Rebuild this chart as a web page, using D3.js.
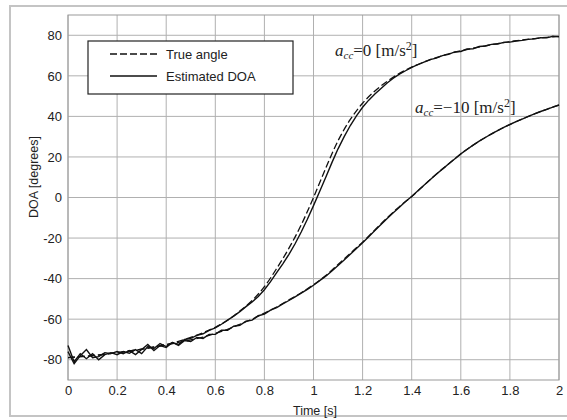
<!DOCTYPE html>
<html><head><meta charset="utf-8">
<script src="https://cdn.jsdelivr.net/npm/d3@7"></script>
<style>body{margin:0;background:#fff;}svg{display:block;font-family:"Liberation Sans",Arial,sans-serif;}</style>
</head><body>
<svg id="c" width="567" height="420"></svg>
<script>
// ---- data ----
const tTrue = d3.range(0, 41).map(i => +(i * 0.05).toFixed(3));
const tEst = d3.range(0, 81).map(i => +(i * 0.025).toFixed(3));
const trueAcc0 = [-79,-78.5,-78,-77.3,-76.5,-75.7,-74.8,-73.7,-72.5,-71,-69,-66.7,-64,-60.5,-56,-50.8,-44,-35,-25,-13.5,0,14.5,28,38.5,46.5,52.5,57.3,61.2,64.3,66.8,69,70.8,72.3,73.6,74.8,75.9,76.9,77.7,78.4,79,79.5];
const trueAcc10 = [-79,-78.5,-78,-77.3,-76.5,-75.7,-74.8,-73.8,-72.7,-71.5,-70.2,-68.8,-67,-65,-62.5,-60,-57,-54,-50.5,-47,-43,-38.5,-33,-27.5,-22,-16,-10,-4.5,0.5,6,11.5,16.5,21.5,25.8,29.6,33,36,38.7,41.2,43.5,45.6];
const estAcc0 = [-73,-81,-77,-79.5,-77,-80,-77.5,-76.5,-77.5,-76,
  -76.8,-75,-77,-73.5,-74.5,-72,-73.5,-71.5,-72.5,-70,
  -69.5,-68,-67.2,-65.5,-64.3,-62.5,-60.5,-58.5,-56.3,-53.8,
  -51.5,-48.8,-45.5,-41.5,-37,-32.7,-28,-22.8,-17,-10.7,
  -4,3,10,17.2,24,30,35.5,40.3,44.5,48,
  51,53.8,56.5,58.8,60.8,62.5,64.2,65.5,66.8,68,
  68.7,70,70.6,71.8,72,73.2,73.3,74.5,74.7,75.5,
  75.7,76.5,76.6,77.2,77.5,78,78.2,78.8,78.7,79.5,
  79.2];
const estAcc10 = [-76,-82,-78,-75,-79,-78.5,-76.5,-77,-76,-77,
  -75.5,-77.5,-75,-72.5,-75.5,-73,-74,-71.5,-73,-70.5,
  -71,-69,-69.5,-67.5,-67.5,-65.5,-65.5,-63.5,-63,-61,
  -60.5,-58.3,-57.5,-55.5,-54.3,-52.5,-50.8,-49,-47.2,-45.3,
  -43.3,-41,-38.8,-36.2,-33.5,-30.8,-28,-25.2,-22.3,-19.3,
  -16.3,-13.3,-10.3,-7.5,-4.8,-2,0.5,3.3,6,8.8,
  11.5,14,16.5,19,21.5,23.7,25.8,27.8,29.6,31.4,
  33,34.6,36,37.4,38.7,40,41.2,42.4,43.5,44.6,
  45.6];
const xTicks = [0,0.2,0.4,0.6,0.8,1,1.2,1.4,1.6,1.8,2];
const yTicks = [-80,-60,-40,-20,0,20,40,60,80];
const legendLabels = ["True angle","Estimated DOA"];

// ---- layout ----
const svg = d3.select("#c");
const L = 68, R = 559, T = 15, B = 380;
const x = d3.scaleLinear().domain([0, 2]).range([L, R]);
const y = d3.scaleLinear().domain([-90, 90]).range([B, T]);

// outer frame (right edge beyond the picture)
svg.append("rect").attr("x", 10).attr("y", 6).attr("width", 600).attr("height", 410)
  .attr("fill", "none").attr("stroke", "#c4c4c4").attr("stroke-width", 2);

// grid
const g = svg.append("g");
g.selectAll(".vg").data(xTicks).join("line")
  .attr("x1", d => x(d)).attr("x2", d => x(d)).attr("y1", T).attr("y2", B)
  .attr("stroke", "#b0b0b0").attr("stroke-width", 1);
g.selectAll(".hg").data(yTicks).join("line")
  .attr("x1", L).attr("x2", R).attr("y1", d => y(d)).attr("y2", d => y(d))
  .attr("stroke", "#b0b0b0").attr("stroke-width", 1);
svg.append("rect").attr("x", L).attr("y", T).attr("width", R - L).attr("height", B - T)
  .attr("fill", "none").attr("stroke", "#999").attr("stroke-width", 1);

// axes (labels only)
const fmt = d => String(d);
const xa = svg.append("g").attr("transform", `translate(0,${B})`)
  .call(d3.axisBottom(x).tickValues(xTicks).tickFormat(fmt).tickSize(0).tickPadding(6));
const ya = svg.append("g").attr("transform", `translate(${L},0)`)
  .call(d3.axisLeft(y).tickValues(yTicks).tickFormat(fmt).tickSize(0).tickPadding(6));
[xa, ya].forEach(a => {
  a.select(".domain").remove();
  a.selectAll("text").attr("font-size", 13).attr("fill", "#222")
    .attr("font-family", "'Liberation Sans', Arial, sans-serif");
});

svg.append("text").attr("x", 315).attr("y", 415).attr("text-anchor", "middle")
  .attr("font-size", 12.5).attr("fill", "#222").text("Time [s]");
svg.append("text").attr("transform", "translate(38,177) rotate(-90)").attr("text-anchor", "middle")
  .attr("font-size", 12.5).attr("fill", "#222").text("DOA [degrees]");

// curves
const lineSmooth = d3.line().x((d, i) => x(tTrue[i])).y(d => y(d)).curve(d3.curveMonotoneX);
const lineEst = d3.line().x((d, i) => x(tEst[i])).y(d => y(d));
const plot = svg.append("g");
[estAcc0, estAcc10].forEach(s => plot.append("path").attr("d", lineEst(s))
  .attr("fill", "none").attr("stroke", "#111").attr("stroke-width", 1.4));
[trueAcc0, trueAcc10].forEach(s => plot.append("path").attr("d", lineSmooth(s))
  .attr("fill", "none").attr("stroke", "#111").attr("stroke-width", 1.3).attr("stroke-dasharray", "7,3"));

// legend
const lg = svg.append("g");
lg.append("rect").attr("x", 88).attr("y", 41).attr("width", 205).attr("height", 53)
  .attr("fill", "#fff").attr("stroke", "#222").attr("stroke-width", 1.2);
lg.append("line").attr("x1", 110).attr("x2", 157).attr("y1", 54).attr("y2", 54)
  .attr("stroke", "#111").attr("stroke-width", 1.3).attr("stroke-dasharray", "7,3");
lg.append("line").attr("x1", 110).attr("x2", 157).attr("y1", 76).attr("y2", 76)
  .attr("stroke", "#111").attr("stroke-width", 1.4);
legendLabels.forEach((s, i) => lg.append("text").attr("x", 166).attr("y", 59 + i * 22)
  .attr("font-size", 13).attr("fill", "#222").text(s));

// annotations
function annot(xp, yp, val) {
  const t = svg.append("text").attr("x", xp).attr("y", yp)
    .attr("font-family", "'Liberation Serif', 'Times New Roman', serif").attr("font-size", 17).attr("fill", "#222");
  t.append("tspan").attr("font-style", "italic").text("a");
  t.append("tspan").attr("font-style", "italic").attr("font-size", 11).attr("dy", 3).text("cc");
  t.append("tspan").attr("dy", -3).text("=" + val + " [m/s");
  t.append("tspan").attr("font-size", 12).attr("dy", -6).text("2");
  t.append("tspan").attr("dy", 6).text("]");
}
annot(335, 56, "0");
annot(415, 113, "\u221210");
</script>
</body></html>
